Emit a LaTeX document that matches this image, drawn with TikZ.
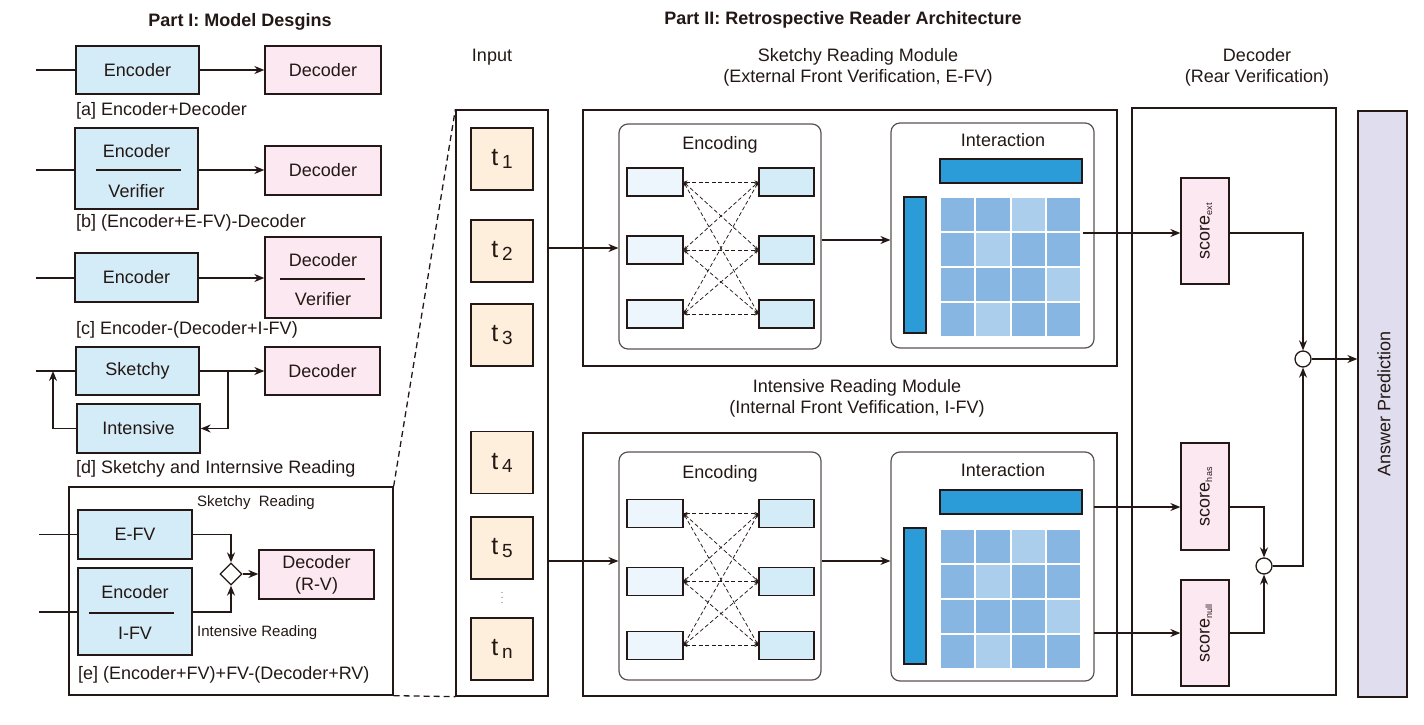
\documentclass[tikz,border=0pt]{standalone}
\usepackage{fontspec}
\setmainfont{Liberation Sans}
\usetikzlibrary{arrows.meta,shapes.geometric}
\definecolor{ink}{HTML}{231815}
\definecolor{encblue}{HTML}{D4ECF7}
\definecolor{decpink}{HTML}{FCE8F0}
\definecolor{tokpeach}{HTML}{FDEFDB}
\definecolor{ansgray}{HTML}{E0DEEE}
\definecolor{lightbox}{HTML}{EEF6FD}
\definecolor{barblue}{HTML}{2B9CD8}
\definecolor{cellD}{HTML}{86B6E1}
\definecolor{cellL}{HTML}{AACEEC}
\newcommand\tokenlab[1]{{\fontsize{25}{25}\selectfont t}\hspace{4pt}\raisebox{-3pt}{\fontsize{19}{19}\selectfont #1}}
\begin{document}
\begin{tikzpicture}[x=1pt,y=-1pt,
  every node/.style={text=ink,font=\fontsize{18}{21}\selectfont},
  blk/.style={draw=ink,line width=1.3pt,inner sep=0pt},
  rbox/.style={draw=ink!75,line width=1.2pt,rounded corners=9pt,inner sep=0pt},
  ln/.style={draw=ink,line width=1.3pt},
  arr/.style={draw=ink,line width=1.3pt,-{Stealth[length=10pt,width=8pt]}},
  darr/.style={draw=ink,line width=0.75pt,dash pattern=on 4pt off 2.5pt,{Stealth[length=4pt,width=3pt]}-{Stealth[length=4pt,width=3pt]}},
  lbl/.style={anchor=west,inner sep=0pt},
  small/.style={font=\fontsize{15}{17}\selectfont}
]
\useasboundingbox (0,0) rectangle (1424,725);

% ---------------- Titles
\node[font=\bfseries\fontsize{18}{21}\selectfont] (t1title) at (240,22) {Part I: Model Desgins};
\node[font=\bfseries\fontsize{18}{21}\selectfont] (t2title) at (843,20) {Part II: Retrospective Reader Architecture};

% ---------------- Part I (a)
\coordinate (aIn) at (36,70);
\node[blk,fill=encblue,minimum width=123pt,minimum height=48pt] (aEnc) at (137.5,70) {Encoder};
\node[blk,fill=decpink,minimum width=116pt,minimum height=48pt] (aDec) at (323,70) {Decoder};
\draw[ln] (aIn) -- (aEnc.west);
\draw[arr] (aEnc.east) -- (aDec.west);
\node[lbl] (aCap) at (76,111) {[a] Encoder+Decoder};

% ---------------- (b)
\coordinate (bIn) at (36,170);
\node[blk,fill=encblue,minimum width=123pt,minimum height=81pt] (bEnc) at (136.5,168.5) {};
\node (bEncT) at (136.5,151) {Encoder};
\node (bVerT) at (136.5,191) {Verifier};
\draw[ln] (96,170) -- (181,170);
\node[blk,fill=decpink,minimum width=116pt,minimum height=49pt] (bDec) at (323,170.5) {Decoder};
\draw[ln] (bIn) -- (bIn -| bEnc.west);
\draw[arr] (bIn -| bEnc.east) -- (bIn -| bDec.west);
\node[lbl] (bCap) at (76,223) {[b] (Encoder+E-FV)-Decoder};

% ---------------- (c)
\coordinate (cIn) at (36,278);
\node[blk,fill=encblue,minimum width=123pt,minimum height=49pt] (cEnc) at (136.5,277.5) {Encoder};
\node[blk,fill=decpink,minimum width=116pt,minimum height=81pt] (cDec) at (323,277.5) {};
\node (cDecT) at (323,260) {Decoder};
\node (cVerT) at (323,299) {Verifier};
\draw[ln] (280,279) -- (365,279);
\draw[ln] (cIn) -- (cIn -| cEnc.west);
\draw[arr] (cIn -| cEnc.east) -- (cIn -| cDec.west);
\node[lbl] (cCap) at (76,330) {[c] Encoder-(Decoder+I-FV)};

% ---------------- (d)
\coordinate (dIn) at (36,371);
\coordinate (dUp) at (53,371);
\coordinate (dBr) at (228,371);
\node[blk,fill=encblue,minimum width=123pt,minimum height=48pt] (dSk) at (137.5,371) {Sketchy};
\node[blk,fill=decpink,minimum width=115pt,minimum height=48pt] (dDec) at (322.5,371) {Decoder};
\node[blk,fill=encblue,minimum width=123pt,minimum height=49pt] (dInt) at (138.5,428.5) {Intensive};
\draw[ln] (dIn) -- (dSk.west);
\draw[arr] (dSk.east) -- (dDec.west);
\draw[arr] (dBr) |- (dInt.east);
\draw[arr] (dInt.west) -| (dUp);
\node[lbl] (dCap) at (76,469) {[d] Sketchy and Internsive Reading};

% ---------------- (e)
\node[draw=ink,line width=1.3pt,inner sep=0pt,minimum width=324pt,minimum height=208pt] (eBox) at (231,591) {};
\coordinate (eIn1) at (39,534.5);
\coordinate (eIn2) at (39,612);
\node[blk,fill=encblue,minimum width=114pt,minimum height=49pt] (eEf) at (135,534.5) {E-FV};
\node[blk,fill=encblue,minimum width=114pt,minimum height=87pt] (eEnc) at (135,611.5) {};
\node (eEncT) at (135,592) {Encoder};
\node (eIfT) at (135,633) {I-FV};
\draw[ln] (89,613) -- (174,613);
\node[diamond,draw=ink,line width=1.3pt,fill=white,inner sep=0pt,minimum size=22pt] (eDia) at (231,574) {};
\node[blk,fill=decpink,minimum width=115pt,minimum height=49pt,align=center,font=\fontsize{18}{22}\selectfont] (eDec) at (316.5,574.5) {Decoder\\(R-V)};
\draw[ln] (eIn1) -- (eEf.west);
\draw[ln] (eIn2) -- (eIn2 -| eEnc.west);
\draw[arr] (eEf.east) -| (eDia.north);
\draw[arr] (eIn2 -| eEnc.east) -| (eDia.south);
\draw[arr] (eDia.east) -- (eDia.east -| eDec.west);
\node[lbl,small] (eSk) at (197,503) {Sketchy\ \ Reading};
\node[lbl,small] (eIr) at (197,633) {Intensive Reading};
\node[lbl] (eCap) at (78,675) {[e] (Encoder+FV)+FV-(Decoder+RV)};

% ---------------- Part II headings
\node (inpT) at (492,57) {Input};
\node[align=center] (skT) at (858,67.5) {Sketchy Reading Module\\(External Front Verification, E-FV)};
\node[align=center] (inT) at (857,398) {Intensive Reading Module\\(Internal Front Vefification, I-FV)};
\node[align=center] (decT) at (1257,67.5) {Decoder\\(Rear Verification)};

% ---------------- Input column
\node[blk,minimum width=92pt,minimum height=586pt] (inp) at (502,403) {};
\node[blk,fill=tokpeach,minimum size=62pt] (tk1) at (502,159) {\tokenlab{1}};
\node[blk,fill=tokpeach,minimum size=62pt] (tk2) at (502,251) {\tokenlab{2}};
\node[blk,fill=tokpeach,minimum size=62pt] (tk3) at (502,335) {\tokenlab{3}};
\node[blk,fill=tokpeach,minimum size=62pt] (tk4) at (502,462.5) {\tokenlab{4}};
\node[blk,fill=tokpeach,minimum size=62pt] (tk5) at (502,548) {\tokenlab{5}};
\node[blk,fill=tokpeach,minimum size=62pt] (tkn) at (502,649) {\tokenlab{n}};
\foreach \dy in {592.5,597.5,602.5}{\fill[ink!60] (502,\dy) circle (0.7pt);}

% dashed zoom lines
\draw[ln,dash pattern=on 6pt off 4pt] (eBox.north east) -- (inp.north west);
\draw[ln,dash pattern=on 6pt off 4pt] (eBox.south east) -- (inp.south west);

% ---------------- Modules
\node[blk,minimum width=534pt,minimum height=256pt] (modU) at (850,238) {};
\node[blk,minimum width=534pt,minimum height=263pt] (modL) at (850,564.5) {};

\node[rbox,minimum width=202pt,minimum height=225pt] (encU) at (720,236.5) {};
\node[rbox,minimum width=203pt,minimum height=225pt] (intU) at (992.5,235.5) {};
\node[rbox,minimum width=202pt,minimum height=228pt] (encL) at (720,566) {};
\node[rbox,minimum width=203pt,minimum height=229pt] (intL) at (992.5,566.5) {};

\node (encUT) at (720,145) {Encoding};
\node (intUT) at (1003,140) {Interaction};
\node (encLT) at (720,474) {Encoding};
\node (intLT) at (1003,470) {Interaction};

% encoding small boxes
\foreach \yy/\k in {182/1,250/2,314/3}{
  \node[draw=ink,line width=1.1pt,fill=lightbox,inner sep=0pt,minimum width=56pt,minimum height=28pt] (uL\k) at (655,\yy) {};
  \node[draw=ink,line width=1.1pt,fill=encblue,inner sep=0pt,minimum width=55pt,minimum height=28pt] (uR\k) at (786.5,\yy) {};
}
\foreach \yy/\k in {513.5/1,581.5/2,645.5/3}{
  \node[draw=ink,line width=1.1pt,fill=lightbox,inner sep=0pt,minimum width=56pt,minimum height=28pt] (lL\k) at (655,\yy) {};
  \node[draw=ink,line width=1.1pt,fill=encblue,inner sep=0pt,minimum width=55pt,minimum height=28pt] (lR\k) at (786.5,\yy) {};
}
\foreach \i in {1,2,3}{
  \foreach \j in {1,2,3}{
    \draw[darr] (uL\i.east) -- (uR\j.west);
    \draw[darr] (lL\i.east) -- (lR\j.west);
  }
}

% interaction bars
\node[blk,fill=barblue,minimum width=142pt,minimum height=24pt] (barU) at (1011,171) {};
\node[blk,fill=barblue,minimum width=22pt,minimum height=136pt] (vbarU) at (915,265) {};
\node[blk,fill=barblue,minimum width=142pt,minimum height=24pt] (barL) at (1011,502) {};
\node[blk,fill=barblue,minimum width=22pt,minimum height=136pt] (vbarL) at (915,596) {};

% grids
\foreach \gy in {197,529}{
  \foreach \row [count=\i from 0] in {{D,D,L,D},{D,L,D,D},{D,D,D,L},{D,L,D,D}}{
    \foreach \t [count=\j from 0] in \row {
      \fill[cell\t] (940+\j*35.25+1,\gy+\i*34.9+1) rectangle (940+\j*35.25+35.25-1,\gy+\i*34.9+34.9-1);
    }
  }
}

% arrows in part II
\draw[arr] (inp.east |- 0,248) -- (encU.west |- 0,248);
\draw[arr] (encU.east |- 0,240) -- (intU.west |- 0,240);
\draw[arr] (inp.east |- 0,561) -- (encL.west |- 0,561);
\draw[arr] (encL.east |- 0,561) -- (intL.west |- 0,561);

% ---------------- Decoder
\node[blk,minimum width=204pt,minimum height=587pt] (decBox) at (1234,401.5) {};
\node[blk,fill=ansgray,minimum width=49pt,minimum height=586pt] (ans) at (1382.5,404) {};
\node[rotate=90] (ansT) at (1384,404) {Answer Prediction};

\node[blk,fill=decpink,minimum width=48pt,minimum height=106pt] (sExt) at (1205,231) {};
\node[rotate=90] (sExtT) at (1206,231) {score\textsubscript{\fontsize{9}{9}\selectfont ext}};
\node[blk,fill=decpink,minimum width=48pt,minimum height=107pt] (sHas) at (1205,496.5) {};
\node[rotate=90] (sHasT) at (1206,496.5) {score\textsubscript{\fontsize{9}{9}\selectfont has}};
\node[blk,fill=decpink,minimum width=48pt,minimum height=106pt] (sNull) at (1205,633) {};
\node[rotate=90] (sNullT) at (1206,633) {score\textsubscript{\fontsize{9}{9}\selectfont null}};

\node[circle,draw=ink,line width=1.3pt,fill=white,inner sep=0pt,minimum size=16pt] (c1) at (1303,359) {};
\node[circle,draw=ink,line width=1.3pt,fill=white,inner sep=0pt,minimum size=16pt] (c2) at (1264,566) {};

\coordinate (extSrc) at (1083,233);
\coordinate (hasSrc) at (1094,507);
\coordinate (nullSrc) at (1094,633);
\draw[arr] (extSrc) -- (extSrc -| sExt.west);
\draw[arr] (extSrc -| sExt.east) -| (c1.north);
\draw[arr] (hasSrc) -- (hasSrc -| sHas.west);
\draw[arr] (hasSrc -| sHas.east) -| (c2.north);
\draw[arr] (nullSrc) -- (nullSrc -| sNull.west);
\draw[arr] (nullSrc -| sNull.east) -| (c2.south);
\draw[arr] (c2.east) -| (c1.south);
\draw[arr] (c1.east) -- (c1 -| ans.west);
\end{tikzpicture}
\end{document}
